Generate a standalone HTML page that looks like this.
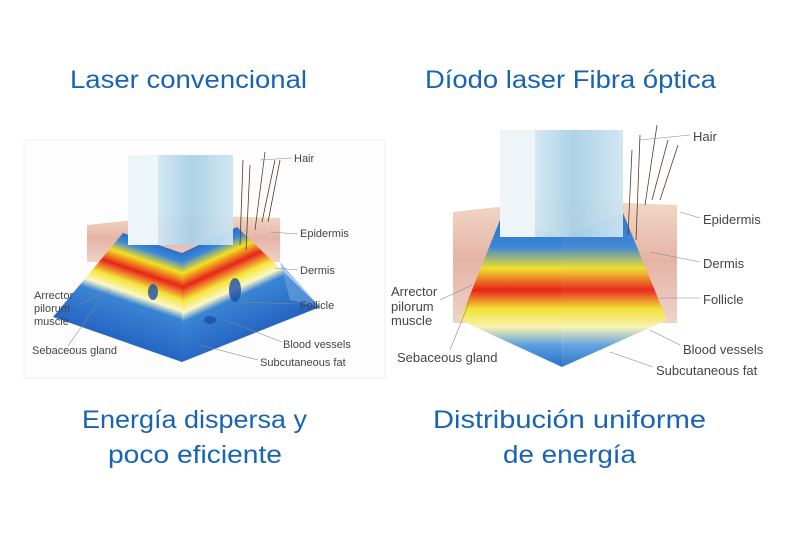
<!DOCTYPE html>
<html><head><meta charset="utf-8"><style>
html,body{margin:0;padding:0;background:#fff;}
svg{display:block}
.t{font-family:"Liberation Sans",sans-serif;fill:#1764b5;font-size:25px}
.l{font-family:"Liberation Sans",sans-serif;fill:#444;font-size:11px}
.r{font-family:"Liberation Sans",sans-serif;fill:#444;font-size:13px}
</style></head><body>
<svg width="800" height="533" viewBox="0 0 800 533" xmlns="http://www.w3.org/2000/svg">
<defs>
<linearGradient id="gl1" gradientUnits="userSpaceOnUse" x1="152" y1="243" x2="118" y2="343">
<stop offset="0" stop-color="#2a6fc7"/><stop offset="0.08" stop-color="#3d88d8"/>
<stop offset="0.18" stop-color="#f3e020"/><stop offset="0.3" stop-color="#e8231c"/>
<stop offset="0.42" stop-color="#f5e53a"/><stop offset="0.52" stop-color="#fbf7c8"/>
<stop offset="0.6" stop-color="#3a84d4"/><stop offset="1" stop-color="#2463c2"/>
</linearGradient>
<linearGradient id="gl2" gradientUnits="userSpaceOnUse" x1="210" y1="240" x2="254" y2="336">
<stop offset="0" stop-color="#2a6fc7"/><stop offset="0.08" stop-color="#3d88d8"/>
<stop offset="0.18" stop-color="#f3e020"/><stop offset="0.3" stop-color="#e8231c"/>
<stop offset="0.42" stop-color="#f5e53a"/><stop offset="0.52" stop-color="#fbf7c8"/>
<stop offset="0.6" stop-color="#3a84d4"/><stop offset="1" stop-color="#2463c2"/>
</linearGradient>
<linearGradient id="gr" gradientUnits="userSpaceOnUse" x1="0" y1="213" x2="0" y2="367">
<stop offset="0" stop-color="#2a6fc7"/><stop offset="0.22" stop-color="#3b86d6"/>
<stop offset="0.36" stop-color="#f0e02a"/><stop offset="0.5" stop-color="#e8221b"/>
<stop offset="0.62" stop-color="#f2e030"/><stop offset="0.74" stop-color="#f8f2b0"/>
<stop offset="0.86" stop-color="#5a9ee0"/><stop offset="1" stop-color="#2a6fc7"/>
</linearGradient>
<linearGradient id="skin" x1="0" y1="0" x2="0" y2="1">
<stop offset="0" stop-color="#f1d9c6"/><stop offset="0.5" stop-color="#e5b3a6"/><stop offset="1" stop-color="#efd3c8"/>
</linearGradient>
<linearGradient id="glass" x1="0" y1="0" x2="1" y2="0">
<stop offset="0" stop-color="#e8f2f7"/><stop offset="0.3" stop-color="#d0e6f1"/><stop offset="0.6" stop-color="#a9d0e6"/><stop offset="1" stop-color="#cfe5f1"/>
</linearGradient>
</defs>

<text class="t" x="70" y="88" textLength="237" lengthAdjust="spacingAndGlyphs">Laser convencional</text>
<text class="t" x="425" y="88" textLength="291" lengthAdjust="spacingAndGlyphs">Díodo laser Fibra óptica</text>
<text class="t" x="82" y="428" textLength="225" lengthAdjust="spacingAndGlyphs">Energía dispersa y</text>
<text class="t" x="108" y="463" textLength="174" lengthAdjust="spacingAndGlyphs">poco eficiente</text>
<text class="t" x="433" y="428" textLength="273" lengthAdjust="spacingAndGlyphs">Distribución uniforme</text>
<text class="t" x="503" y="463" textLength="133" lengthAdjust="spacingAndGlyphs">de energía</text>

<!-- LEFT -->
<rect x="24" y="140" width="361" height="238" fill="#fdfdfd" stroke="#f0f0f0"/>
<polygon points="87,225 180,215 280,218 280,262 87,262" fill="url(#skin)"/>
<polygon points="123,233 182,253 182,362 53,317" fill="url(#gl1)"/>
<polygon points="182,253 237,227 320,307 182,362" fill="url(#gl2)"/>
<polygon points="280,262 320,307 290,300" fill="#6fa6dd" opacity="0.6"/>
<g fill="#1c4fa8" opacity="0.8"><ellipse cx="153" cy="292" rx="5" ry="8"/><ellipse cx="235" cy="290" rx="6" ry="12"/><ellipse cx="210" cy="320" rx="6" ry="4"/></g>
<rect x="128" y="155" width="105" height="90" fill="url(#glass)" opacity="0.95"/>
<rect x="128" y="155" width="30" height="90" fill="#eef5f9"/>
<g stroke="#5a3a2a" stroke-width="0.8" fill="none"><path d="M240,245 L243,160"/><path d="M246,250 L250,165"/><path d="M255,230 L265,152"/><path d="M262,222 L275,160"/><path d="M268,222 L280,160"/></g>
<g stroke="#888" stroke-width="0.6"><line x1="260" y1="160" x2="292" y2="158"/><line x1="270" y1="232" x2="298" y2="234"/><line x1="275" y1="268" x2="298" y2="270"/><line x1="240" y1="302" x2="298" y2="304"/><line x1="225" y1="320" x2="282" y2="342"/><line x1="200" y1="345" x2="258" y2="360"/><line x1="78" y1="305" x2="110" y2="290"/><line x1="68" y1="346" x2="100" y2="300"/></g>
<text class="l" x="294" y="162">Hair</text>
<text class="l" x="300" y="237">Epidermis</text>
<text class="l" x="300" y="274">Dermis</text>
<text class="l" x="300" y="309">Follicle</text>
<text class="l" x="283" y="348">Blood vessels</text>
<text class="l" x="260" y="366">Subcutaneous fat</text>
<text class="l" x="34" y="299">Arrector</text>
<text class="l" x="34" y="312">pilorum</text>
<text class="l" x="34" y="325">muscle</text>
<text class="l" x="32" y="354">Sebaceous gland</text>

<!-- RIGHT -->
<polygon points="453,212 560,200 677,205 677,323 453,323" fill="url(#skin)"/>
<polygon points="500,220 563,237 562,367 460,320" fill="url(#gr)"/>
<polygon points="563,237 623,213 667,320 562,367" fill="url(#gr)" opacity="0.95"/>
<rect x="500" y="130" width="123" height="107" fill="url(#glass)" opacity="0.95"/>
<rect x="500" y="130" width="35" height="107" fill="#eef5f9"/>
<g stroke="#5a3a2a" stroke-width="0.8" fill="none"><path d="M628,235 L632,150"/><path d="M636,240 L640,135"/><path d="M645,205 L657,125"/><path d="M652,200 L668,140"/><path d="M660,200 L678,145"/></g>
<g stroke="#888" stroke-width="0.6"><line x1="640" y1="140" x2="690" y2="135"/><line x1="680" y1="212" x2="700" y2="218"/><line x1="650" y1="252" x2="700" y2="262"/><line x1="660" y1="298" x2="700" y2="298"/><line x1="650" y1="330" x2="680" y2="345"/><line x1="610" y1="352" x2="653" y2="367"/><line x1="440" y1="300" x2="472" y2="285"/><line x1="450" y1="350" x2="470" y2="300"/></g>
<text class="r" x="693" y="141">Hair</text>
<text class="r" x="703" y="224">Epidermis</text>
<text class="r" x="703" y="268">Dermis</text>
<text class="r" x="703" y="304">Follicle</text>
<text class="r" x="683" y="354">Blood vessels</text>
<text class="r" x="656" y="375">Subcutaneous fat</text>
<text class="r" x="391" y="296">Arrector</text>
<text class="r" x="391" y="311">pilorum</text>
<text class="r" x="391" y="325">muscle</text>
<text class="r" x="397" y="362">Sebaceous gland</text>
</svg>
</body></html>
